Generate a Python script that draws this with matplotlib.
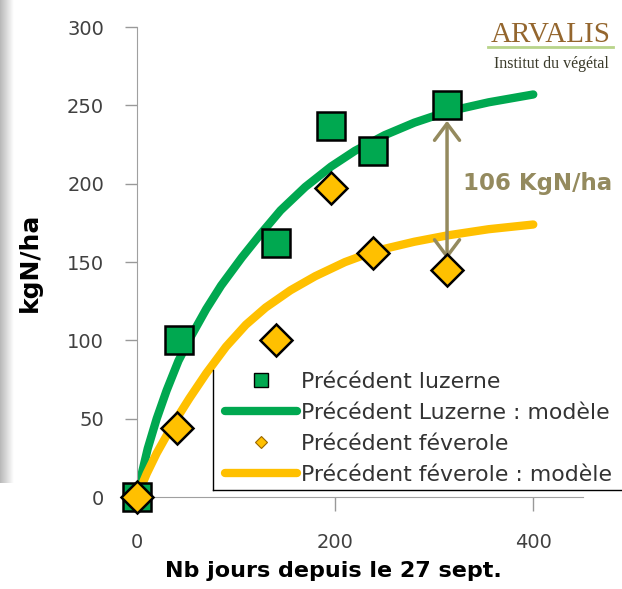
import numpy as np
from matplotlib import pyplot as plt

# Data
days_luz = [0, 43, 140, 196, 238, 313]
n_luz = [0, 100, 162, 237, 221, 250]
days_fev = [0, 41, 140, 196, 238, 313]
n_fev = [0, 44, 100, 197, 156, 145]

# model curves
model_days_luz = [0, 5, 11, 20, 30, 42, 55, 70, 85, 106, 125, 145, 170, 196, 220, 250, 280, 313, 355, 400]
model_luz = [0, 15, 31, 50, 68, 87, 103, 120, 135, 153, 168, 183, 198, 211, 221, 231, 239, 246, 252, 257]
model_days_fev = [0, 10, 20, 36, 53, 70, 90, 110, 130, 155, 180, 210, 240, 280, 313, 355, 400]
model_fev = [0, 15, 28, 46, 63, 79, 96, 110, 121, 132, 141, 150, 157, 163, 167, 171, 174]

xticks = [0, 200, 400]
yticks = [0, 50, 100, 150, 200, 250, 300]
arrow_day = 313
arrow_top = 242
arrow_bottom = 150
label_ecart = '106 KgN/ha'

GREEN = '#00A850'
GOLD = '#FFC000'
KHAKI = '#948A5E'

fig = plt.figure(figsize=(6.22, 5.89), dpi=100)

# grey shading on the left edge of the screenshot
bg = fig.add_axes([0, 0.18, 0.022, 0.82])
bg.imshow(np.linspace(0.72, 1.0, 50).reshape(1, -1), cmap='gray', vmin=0, vmax=1,
          aspect='auto')
bg.axis('off')

ax = fig.add_axes([0.220, 0.156, 0.717, 0.798])

ax.plot(model_days_luz, model_luz, color=GREEN, lw=6, solid_capstyle='round', zorder=2)
ax.plot(model_days_fev, model_fev, color=GOLD, lw=6, solid_capstyle='round', zorder=2)
ax.plot(days_luz, n_luz, 's', ms=20, mfc=GREEN, mec='black', mew=1.8,
        clip_on=False, zorder=4)
ax.plot(days_fev, n_fev, 'D', ms=16, mfc=GOLD, mec='black', mew=1.8,
        clip_on=False, zorder=5)

# ecart arrow
ax.annotate('', xy=(arrow_day, arrow_top), xytext=(arrow_day, arrow_bottom),
            arrowprops=dict(arrowstyle='<->,head_length=0.6,head_width=0.45',
                            color=KHAKI, lw=2.5, mutation_scale=20),
            zorder=3)
ax.text(arrow_day + 16, (arrow_top + arrow_bottom) / 2 + 4, label_ecart, color=KHAKI,
        fontsize=16.5, fontweight='bold', va='center', ha='left')

ax.set_xlim(0, 450)
ax.set_ylim(0, 300)
ax.set_xticks(xticks)
ax.set_yticks(yticks)
ax.tick_params(axis='both', labelsize=14, colors='#999999', labelcolor='#404040', width=1)
ax.tick_params(axis='y', length=8.5, pad=15)
ax.tick_params(axis='x', length=10, pad=16)
for s in ['top', 'right']:
    ax.spines[s].set_visible(False)
for s in ['left', 'bottom']:
    ax.spines[s].set_color('#A0A0A0')
ax.set_xlabel('Nb jours depuis le 27 sept.', fontsize=16, fontweight='bold')
ax.xaxis.set_label_coords(0.44, -0.135)
ax.set_ylabel('kgN/ha', fontsize=18, fontweight='bold', labelpad=18)

# legend (box shows only its left and bottom edges)
h = [
    plt.Line2D([], [], ls='none', marker='s', ms=9.5, mfc=GREEN, mec='black', mew=1),
    plt.Line2D([], [], color=GREEN, lw=6, solid_capstyle='round'),
    plt.Line2D([], [], ls='none', marker='D', ms=6, mfc=GOLD, mec='#996600', mew=0.8),
    plt.Line2D([], [], color=GOLD, lw=6, solid_capstyle='round'),
]
labels = ['Précédent luzerne', 'Précédent Luzerne : modèle',
          'Précédent féverole', 'Précédent féverole : modèle']
leg = fig.legend(h, labels, loc='upper left', bbox_to_anchor=(225 / 622, 1 - 372 / 589),
                 fontsize=15.8, frameon=False, handlelength=3.3, handletextpad=0.15,
                 labelspacing=0.5, borderpad=0, borderaxespad=0)
for t in leg.get_texts():
    t.set_color('#333333')
fig.add_artist(plt.Line2D([213 / 622, 213 / 622], [1 - 370 / 589, 1 - 490 / 589],
                          color='black', lw=1))
fig.add_artist(plt.Line2D([213 / 622, 1.0], [1 - 490 / 589, 1 - 490 / 589],
                          color='black', lw=1))

# logo
fig.text(0.886, 0.941, 'ARVALIS', fontsize=21, family='Liberation Serif',
         color='#94662E', ha='center', va='center')
fig.add_artist(plt.Line2D([0.785, 0.985], [0.920, 0.920], color='#B8D48A', lw=2))
fig.text(0.886, 0.891, 'Institut du végétal', fontsize=11.5, family='Liberation Serif',
         color='#3A3A2A', ha='center', va='center')

plt.savefig('out.png', dpi=100)
